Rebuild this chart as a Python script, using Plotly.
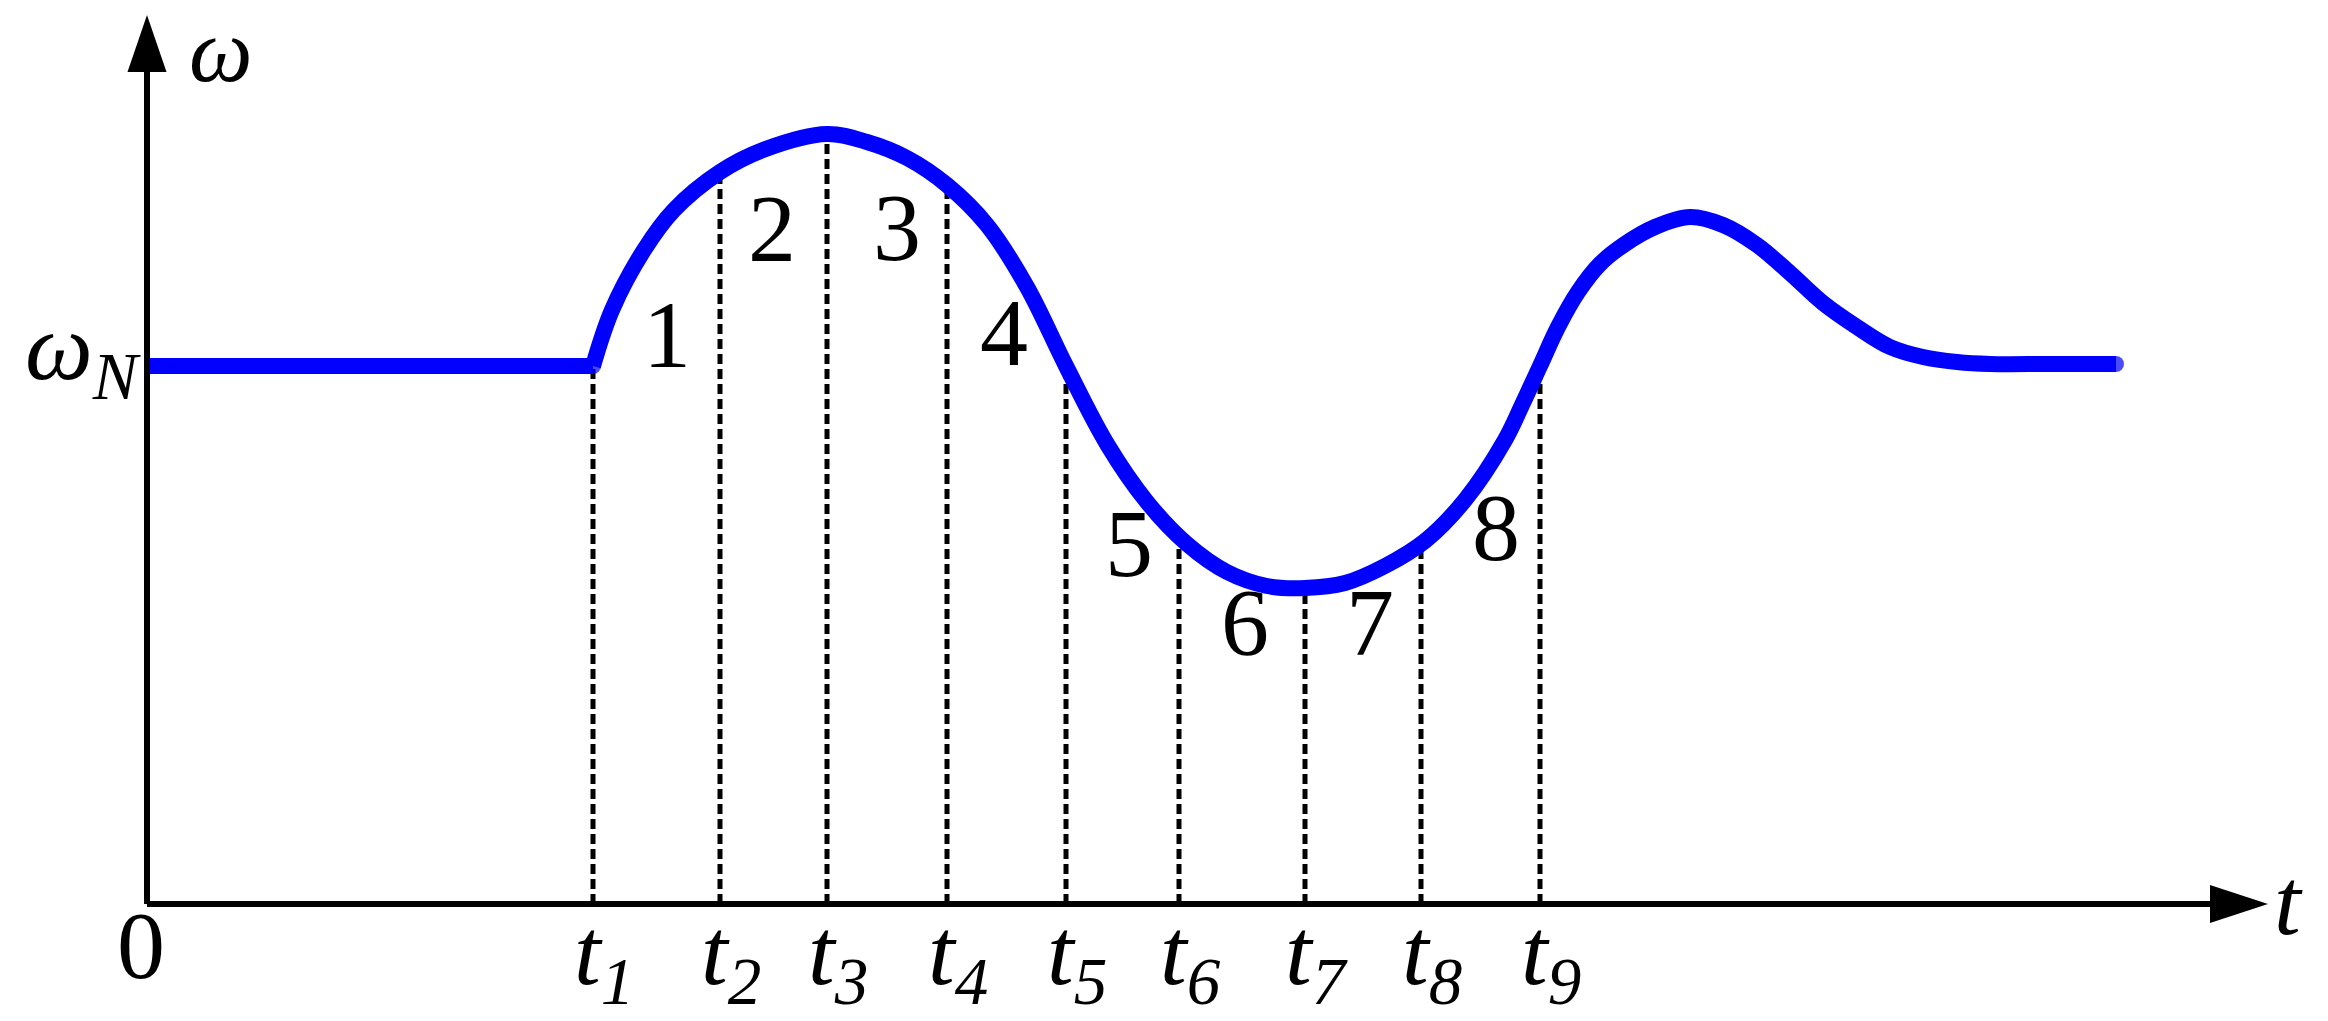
import plotly.graph_objects as go

# ── Data (t and ω in drawing units) ───────────────────────────────────────────
omega_n = 5.38

# flat rated speed before the disturbance
flat_t = [0.00, 4.46]
flat_w = [omega_n, omega_n]

# speed response after t1
curve_t = [4.46, 4.65, 4.97, 5.27, 5.73, 6.16, 6.80,
           7.20, 7.60, 8.00, 8.40, 8.80, 9.19, 9.60, 10.00, 10.40, 10.80, 11.20, 11.58,
           11.98, 12.38, 12.78, 13.18, 13.58, 13.75, 13.93, 14.11, 14.31, 14.53,
           14.78, 15.08, 15.43, 15.76, 16.10, 16.43, 16.76, 17.10, 17.43, 17.76,
           18.10, 18.43, 19.03, 19.69]
curve_w = [5.38, 5.94, 6.54, 6.94, 7.32, 7.54, 7.70,
           7.62, 7.46, 7.19, 6.79, 6.17, 5.38, 4.60, 4.02, 3.60, 3.32, 3.18, 3.16,
           3.21, 3.38, 3.63, 4.04, 4.64, 4.99, 5.38, 5.77, 6.12, 6.40,
           6.60, 6.77, 6.87, 6.79, 6.59, 6.31, 6.01, 5.77, 5.57, 5.47,
           5.42, 5.40, 5.40, 5.40]

# instants t1..t9 and the speed at each one
mark_t = [4.46, 5.73, 6.80, 8.00, 9.19, 10.32, 11.58, 12.74, 13.93]
mark_w = [5.38, 7.32, 7.70, 7.19, 5.38, 3.68, 3.16, 3.61, 5.38]
mark_labels = ["t<sub>%d</sub>" % i for i in range(1, 10)]

# interval numbers 1..8
seg_labels = ["1", "2", "3", "4", "5", "6", "7", "8"]
seg_t = [5.20, 6.25, 7.50, 8.57, 9.82, 10.98, 12.23, 13.49]
seg_w = [5.61, 6.67, 6.68, 5.63, 3.52, 2.73, 2.73, 3.68]

_BLUE = "#0000FF"
_INK = "#000000"
_SERIF = "Liberation Serif"
_FS = 96

x_tip, x_end = 21.21, 20.63   # t-axis arrow tip / base
y_tip, y_end = 8.89, 8.32     # ω-axis arrow tip / base

fig = go.Figure()

# dashed drop lines
drop_x, drop_y = [], []
for t, w in zip(mark_t, mark_w):
    drop_x += [t, t, None]
    drop_y += [0, w, None]
fig.add_trace(go.Scatter(
    x=drop_x, y=drop_y, mode="lines",
    line={"color": _INK, "width": 5, "dash": "10px,5px"},
    hoverinfo="skip",
))

fig.add_trace(go.Scatter(
    x=flat_t, y=flat_w, mode="lines",
    line={"color": _BLUE, "width": 16},
))
sizes = [16] + [0] * (len(curve_t) - 2) + [16]
fig.add_trace(go.Scatter(
    x=curve_t, y=curve_w, mode="lines+markers",
    line={"color": _BLUE, "width": 16, "shape": "spline", "smoothing": 1},
    marker={"color": _BLUE, "size": sizes, "line": {"width": 0}},
))

fig.add_trace(go.Scatter(
    x=seg_t, y=seg_w, mode="text", text=seg_labels,
    textposition="middle center",
    textfont={"family": _SERIF, "size": _FS, "color": _INK},
    hoverinfo="skip",
))

# axes with arrow heads
shapes = [
    {"type": "line", "x0": 0, "y0": 0, "x1": x_end, "y1": 0,
     "line": {"color": _INK, "width": 6}},
    {"type": "line", "x0": 0, "y0": 0, "x1": 0, "y1": y_end,
     "line": {"color": _INK, "width": 6}},
    {"type": "path", "path": f"M {x_end} -0.19 L {x_tip} 0 L {x_end} 0.19 Z",
     "fillcolor": _INK, "line": {"width": 0}},
    {"type": "path", "path": f"M -0.195 {y_end} L 0 {y_tip} L 0.195 {y_end} Z",
     "fillcolor": _INK, "line": {"width": 0}},
]

annotations = []
for t, lab in zip(mark_t, mark_labels):
    annotations.append(dict(
        x=t, y=-0.54, xshift=11, text=f"<i>{lab}</i>", showarrow=False,
        xanchor="center", yanchor="middle",
        font={"family": _SERIF, "size": _FS, "color": _INK},
    ))
annotations += [
    dict(x=-0.06, y=-0.41, text="0", showarrow=False, xanchor="center", yanchor="middle",
         font={"family": _SERIF, "size": _FS, "color": _INK}),
    dict(x=0.40, y=8.54, text="<i>ω</i>", showarrow=False, xanchor="left", yanchor="middle",
         font={"family": _SERIF, "size": 90, "color": _INK}),
    dict(x=21.25, y=0.03, text="<i>t</i>", showarrow=False, xanchor="left", yanchor="middle",
         font={"family": _SERIF, "size": _FS, "color": _INK}),
    dict(x=-0.04, y=5.51, text="<i>ω<sub>N</sub></i>", showarrow=False,
         xanchor="right", yanchor="middle",
         font={"family": _SERIF, "size": _FS, "color": _INK}),
]

fig.update_layout(
    width=2328, height=1021,
    margin={"l": 0, "r": 0, "t": 0, "b": 0},
    paper_bgcolor="white", plot_bgcolor="white",
    showlegend=False,
    xaxis={"range": [-1.47, 21.81], "visible": False, "fixedrange": True},
    yaxis={"range": [-1.17, 9.04], "visible": False, "fixedrange": True},
    shapes=shapes,
    annotations=annotations,
)

fig.write_html("out.html", config={"displayModeBar": False},
               post_script="document.body.style.margin='0px';")
